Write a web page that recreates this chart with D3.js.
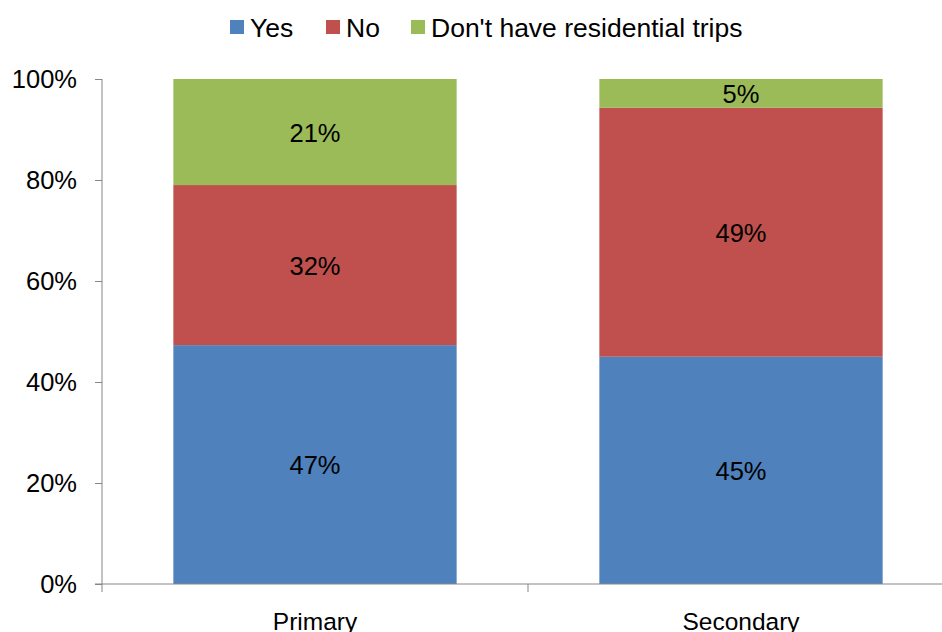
<!DOCTYPE html>
<html><head><meta charset="utf-8">
<script src="https://cdn.jsdelivr.net/npm/d3@7"></script>
<style>body{margin:0;background:#fff}svg{display:block;font-family:"Liberation Sans",Arial,sans-serif}</style>
</head><body><svg id="c" width="942" height="632"></svg>
<script>
const categories = ["Primary", "Secondary"];
const seriesNames = ["Yes", "No", "Don't have residential trips"];
const yesValues = [47.3, 45.0];
const noValues = [31.7, 49.3];
const noTripValues = [21.0, 5.7];
const labelYes = ["47%", "45%"];
const labelNo = ["32%", "49%"];
const labelNoTrip = ["21%", "5%"];
const yTicks = [0, 20, 40, 60, 80, 100];
const colors = ["#4F81BD", "#C0504D", "#9BBB59"];

const svg = d3.select("#c");
const x = d3.scaleBand().domain(categories).range([102, 954]).paddingInner(0.335).paddingOuter(0.1675);
const y = d3.scaleLinear().domain([0, 100]).range([584, 79]);

const rows = categories.map((c, i) => ({cat: c, s0: yesValues[i], s1: noValues[i], s2: noTripValues[i]}));
const stack = d3.stack().keys(["s0", "s1", "s2"])(rows);
const labels = [labelYes, labelNo, labelNoTrip];

stack.forEach((layer, k) => {
  svg.append("g").selectAll("rect").data(layer).join("rect")
    .attr("x", d => x(d.data.cat)).attr("width", x.bandwidth())
    .attr("y", d => y(d[1])).attr("height", d => y(d[0]) - y(d[1]))
    .attr("fill", colors[k]);
  svg.append("g").selectAll("text").data(layer).join("text")
    .attr("x", d => x(d.data.cat) + x.bandwidth() / 2)
    .attr("y", d => (y(d[0]) + y(d[1])) / 2 + 1)
    .attr("dy", "0.35em").attr("text-anchor", "middle")
    .attr("font-size", 25.5).attr("fill", "#000")
    .text((d, i) => labels[k][i]);
});

// y axis
const gy = svg.append("g").attr("transform", "translate(102,0)")
  .call(d3.axisLeft(y).tickValues(yTicks).tickFormat(d => d + "%").tickSize(7).tickPadding(18));
gy.selectAll("text").attr("font-size", 25.5).attr("fill", "#000").attr("font-family", '"Liberation Sans",Arial,sans-serif');
gy.selectAll("line").attr("stroke", "#868686");
gy.select(".domain").attr("stroke", "#868686").attr("d", "M0,584V79");

// x axis
const gx = svg.append("g").attr("transform", "translate(0,584)");
gx.append("line").attr("x1", 95).attr("x2", 954).attr("stroke", "#868686");
const bounds = [102, 102 + x.step(), 102 + 2 * x.step()];
gx.selectAll("line.t").data(bounds).join("line").attr("class", "t")
  .attr("x1", d => d).attr("x2", d => d).attr("y1", 0).attr("y2", 8).attr("stroke", "#868686");
gx.selectAll("text").data(categories).join("text")
  .attr("x", d => x(d) + x.bandwidth() / 2).attr("y", 46)
  .attr("text-anchor", "middle").attr("font-size", 24.5).attr("fill", "#000").text(d => d);

// legend
const legX = [230, 326, 411];
const lg = svg.append("g");
seriesNames.forEach((n, i) => {
  lg.append("rect").attr("x", legX[i]).attr("y", 20).attr("width", 14).attr("height", 14).attr("fill", colors[i]);
  lg.append("text").attr("x", legX[i] + 20).attr("y", 37)
    .attr("font-size", 26.5).attr("fill", "#000").text(n);
});
</script></body></html>
